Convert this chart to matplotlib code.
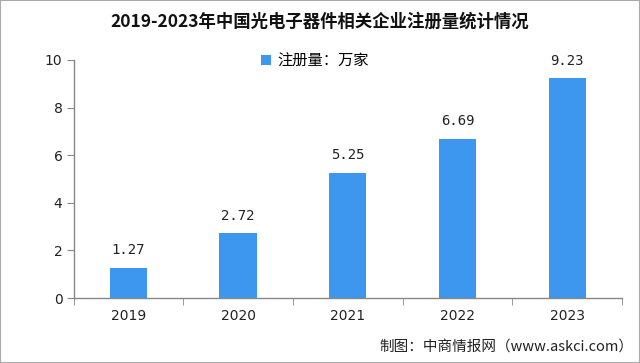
import matplotlib.pyplot as plt
from matplotlib.patches import Rectangle

plt.rcParams['font.family'] = ['Noto Sans CJK SC', 'DejaVu Sans']

years = ['2019', '2020', '2021', '2022', '2023']
counts = [1.27, 2.72, 5.25, 6.69, 9.23]
bar_color = '#3D97EE'

fig = plt.figure(figsize=(6.4, 3.63), dpi=100)
ax = fig.add_axes([0.115, 0.179, 0.857, 0.656])

x = range(len(years))
bars = ax.bar(x, counts, width=0.34, color=bar_color, label='注册量：万家', zorder=2)
for xi, v in zip(x, counts):
    ax.text(xi, v + 0.45, f'{v:.2f}', ha='center', va='bottom', fontsize=10,
            family=['DejaVu Sans Mono', 'DejaVu Sans'], color='#222222')

ax.set_xlim(-0.5, len(years) - 0.5)
ax.set_ylim(0, 10)
ax.set_yticks([0, 2, 4, 6, 8, 10])
ax.set_xticks(list(x))
ax.set_xticklabels(years)
ax.set_xticks([i + 0.5 for i in range(-1, len(years))], minor=True)
ax.tick_params(axis='x', which='major', length=0, pad=8, labelsize=10)
ax.tick_params(axis='x', which='minor', length=5, color='#888888')
ax.tick_params(axis='y', length=5, color='#888888', labelsize=10, pad=3)
for lab in ax.get_xticklabels() + ax.get_yticklabels():
    lab.set_family(['DejaVu Sans'])
    lab.set_color('#222222')

for s in ['top', 'right']:
    ax.spines[s].set_visible(False)
for s in ['left', 'bottom']:
    ax.spines[s].set_color('#888888')
    ax.spines[s].set_linewidth(1.0)

ax.legend(loc='upper center', bbox_to_anchor=(0.44, 1.09), frameon=False,
          fontsize=11, handlelength=0.7, handleheight=0.7, handletextpad=0.4)

fig.text(0.5, 0.94, '2019-2023年中国光电子器件相关企业注册量统计情况',
         ha='center', va='center', fontsize=12.5, fontweight='bold', color='#111111')
fig.text(0.99, 0.045, '制图：中商情报网（www.askci.com）', ha='right', va='center',
         fontsize=10.5, color='#222222')

fig.patches.append(Rectangle((0, 0), 1, 1, transform=fig.transFigure, fill=False,
                             edgecolor='#AAAAAA', linewidth=1.5))

fig.savefig('out.png', dpi=100)
